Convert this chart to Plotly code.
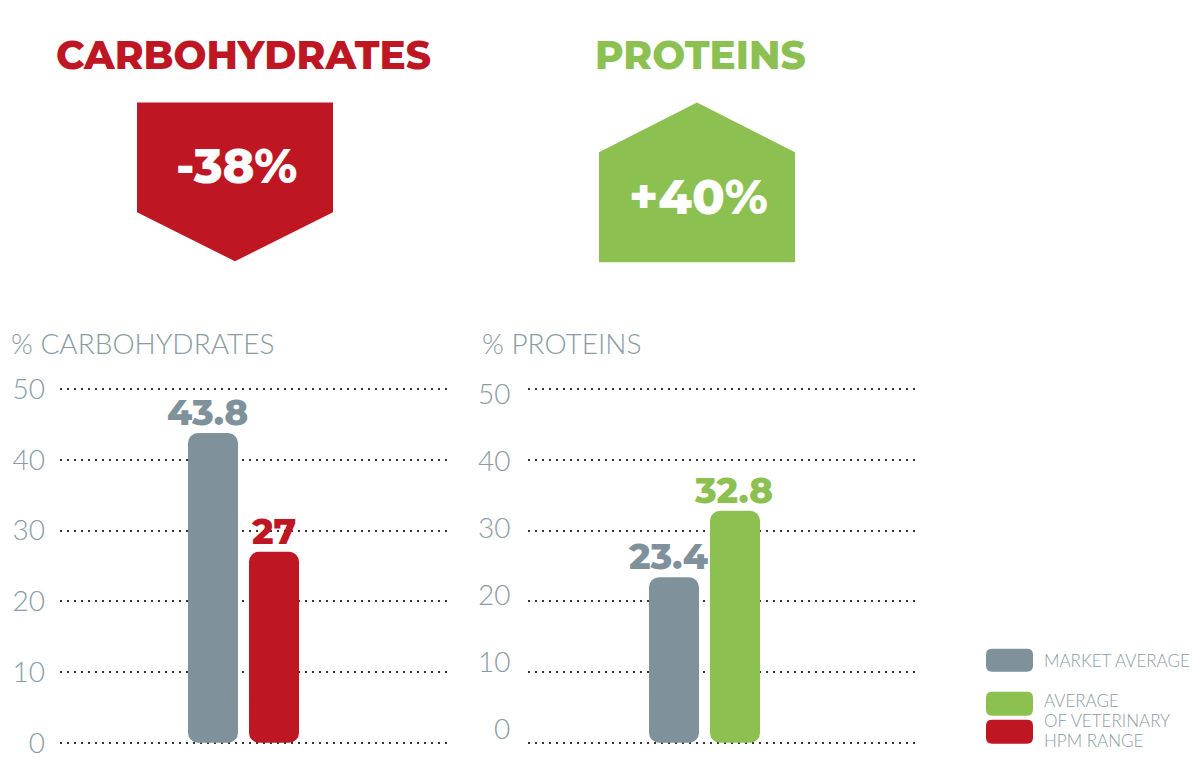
import plotly.graph_objects as go

# DATA
CATEGORIES = ["Market average", "Veterinary HPM range"]
CARB_VALUES = [43.8, 27]
PROT_VALUES = [23.4, 32.8]
Y_TICKS = [0, 10, 20, 30, 40, 50]

GREY = "#7f929c"
RED = "#be1622"
GREEN = "#8cc152"
TEXT_GREY = "#8a9ba5"

W, H = 1200, 770
HEAVY = "Montserrat, Inter, Lato, sans-serif"
LIGHT = "Lato, 'Open Sans', sans-serif"

# the photographed page comes out slightly squeezed vertically, undo that
Y_SCALE, Y_OFFSET = 0.975, 10.5


def px(x):
    return x / W


def py(y):
    return 1 - ((y - Y_OFFSET) / Y_SCALE) / H


def poly_path(points):
    return "M " + " L ".join(f"{px(x)},{py(y)}" for x, y in points) + " Z"


def rounded_rect(x0, y0, x1, y1, r):
    pts = [
        ("M", x0 + r, y0), ("L", x1 - r, y0), ("Q", x1, y0, x1, y0 + r),
        ("L", x1, y1 - r), ("Q", x1, y1, x1 - r, y1), ("L", x0 + r, y1),
        ("Q", x0, y1, x0, y1 - r), ("L", x0, y0 + r), ("Q", x0, y0, x0 + r, y0),
    ]
    out = []
    for p in pts:
        cmd, coords = p[0], p[1:]
        xy = [f"{px(coords[i])},{py(coords[i + 1])}" for i in range(0, len(coords), 2)]
        out.append(cmd + " " + " ".join(xy))
    return " ".join(out) + " Z"


fig = go.Figure()
value_labels = []

OVERLAP = 5  # data units shared by the two pieces of a bar


def add_bars(values, colors, xaxis, yaxis):
    # each bar is two overlapping pieces: one rounded at the top, one at the bottom
    for i, (cat, v, c) in enumerate(zip(CATEGORIES, values, colors)):
        common = dict(
            x=[cat], width=0.82, xaxis=xaxis, yaxis=yaxis,
            marker=dict(color=c, cornerradius=10, line=dict(width=0)),
            showlegend=False, hoverinfo="skip",
        )
        fig.add_trace(go.Bar(y=[-(v - OVERLAP)], base=[v - OVERLAP], **common))
        fig.add_trace(go.Bar(y=[v - OVERLAP], base=[OVERLAP], **common))
        value_labels.append(dict(
            text=f"{v:g}", x=cat, y=v, xref=xaxis, yref=yaxis,
            xanchor="center", yanchor="bottom", yshift=-3, xshift=-6 if i == 0 else -1,
            showarrow=False,
            font=dict(family=HEAVY, size=36, color=c, weight=800),
        ))


add_bars(CARB_VALUES, [GREY, RED], "x", "y")
add_bars(PROT_VALUES, [GREY, GREEN], "x2", "y2")

tick_font = dict(family=LIGHT, size=28, color=TEXT_GREY, weight=300)

# 50 gridline at y=389px, 0 gridline at y=743px, range padded by one unit
unit = (743 - 389) / 50
yaxis_common = dict(
    range=[-1, 51], domain=[py(743 + unit), py(389 - unit)],
    tickvals=Y_TICKS, showgrid=True, gridcolor="#333333", gridwidth=2,
    griddash="2px,5px", zeroline=False, showline=False, ticks="",
    tickfont=tick_font, ticklabelstandoff=14, fixedrange=True,
)
xaxis_common = dict(
    type="category", categoryorder="array", categoryarray=CATEGORIES,
    showgrid=False, zeroline=False, showticklabels=False, showline=False,
    fixedrange=True,
)

fig.update_layout(
    width=W, height=H,
    margin=dict(l=0, r=0, t=0, b=0),
    paper_bgcolor="white", plot_bgcolor="rgba(0,0,0,0)",
    barmode="overlay",
    xaxis=dict(domain=[px(60), px(450)], range=[-2.508, 3.885], anchor="y", **xaxis_common),
    yaxis=dict(anchor="x", **yaxis_common),
    xaxis2=dict(domain=[px(528), px(918)], range=[-2.393, 4.0], anchor="y2", **xaxis_common),
    yaxis2=dict(anchor="x2", **{**yaxis_common, "showticklabels": False}),
)

# the protein panel's labels sit a little tighter than its gridlines
prot_tick_labels = [
    dict(text=str(t), x=px(512), y=t, xref="paper", yref="y2", xanchor="right",
         yanchor="middle", yshift=(50 - t) * 0.37 - 3.5, showarrow=False, font=tick_font)
    for t in Y_TICKS
]

carb_change = round((CARB_VALUES[1] - CARB_VALUES[0]) / CARB_VALUES[0] * 100)
prot_change = round((PROT_VALUES[1] - PROT_VALUES[0]) / PROT_VALUES[0] * 100)

shapes = [
    dict(type="path", xref="paper", yref="paper", line=dict(width=0), fillcolor=RED,
         path=poly_path([(137, 102), (333, 102), (333, 212), (235, 261), (137, 212)])),
    dict(type="path", xref="paper", yref="paper", line=dict(width=0), fillcolor=GREEN,
         path=poly_path([(599, 152), (697, 102), (795, 152), (795, 262), (599, 262)])),
    dict(type="path", xref="paper", yref="paper", line=dict(width=0), fillcolor=GREY,
         path=rounded_rect(986, 649, 1033, 672, 6)),
    dict(type="path", xref="paper", yref="paper", line=dict(width=0), fillcolor=GREEN,
         path=rounded_rect(986, 692, 1033, 716, 6)),
    dict(type="path", xref="paper", yref="paper", line=dict(width=0), fillcolor=RED,
         path=rounded_rect(986, 720, 1033, 744, 6)),
]

legend_font = dict(family=LIGHT, size=17, color=TEXT_GREY, weight=300)
annotations = [
    dict(text="CARBOHYDRATES", x=px(243), y=py(55), font=dict(family=HEAVY, size=39, color=RED, weight=800)),
    dict(text="PROTEINS", x=px(700), y=py(55), font=dict(family=HEAVY, size=39, color=GREEN, weight=800)),
    dict(text=f"{carb_change}%", x=px(236), y=py(166), font=dict(family=HEAVY, size=48, color="white", weight=800)),
    dict(text=f"+{prot_change}%", x=px(698), y=py(197), font=dict(family=HEAVY, size=48, color="white", weight=800)),
    dict(text="% CARBOHYDRATES", x=px(9), y=py(343), xanchor="left",
         font=dict(family=LIGHT, size=28, color=TEXT_GREY, weight=300)),
    dict(text="% PROTEINS", x=px(480), y=py(343), xanchor="left",
         font=dict(family=LIGHT, size=28, color=TEXT_GREY, weight=300)),
    dict(text="MARKET AVERAGE", x=px(1042), y=py(661), xanchor="left", font=legend_font),
    dict(text="AVERAGE", x=px(1042), y=py(701), xanchor="left", font=legend_font),
    dict(text="OF VETERINARY", x=px(1042), y=py(721), xanchor="left", font=legend_font),
    dict(text="HPM RANGE", x=px(1042), y=py(741), xanchor="left", font=legend_font),
]
for a in annotations:
    a.setdefault("xref", "paper")
    a.setdefault("yref", "paper")
    a.setdefault("showarrow", False)
    a.setdefault("xanchor", "center")
    a.setdefault("yanchor", "middle")

fig.update_layout(shapes=shapes, annotations=annotations + prot_tick_labels + value_labels)

# drop the browser's default body margin so the figure sits at the page corner
fig.write_html(
    "out.html",
    config={"displayModeBar": False},
    post_script="document.body.style.margin='0';",
)
